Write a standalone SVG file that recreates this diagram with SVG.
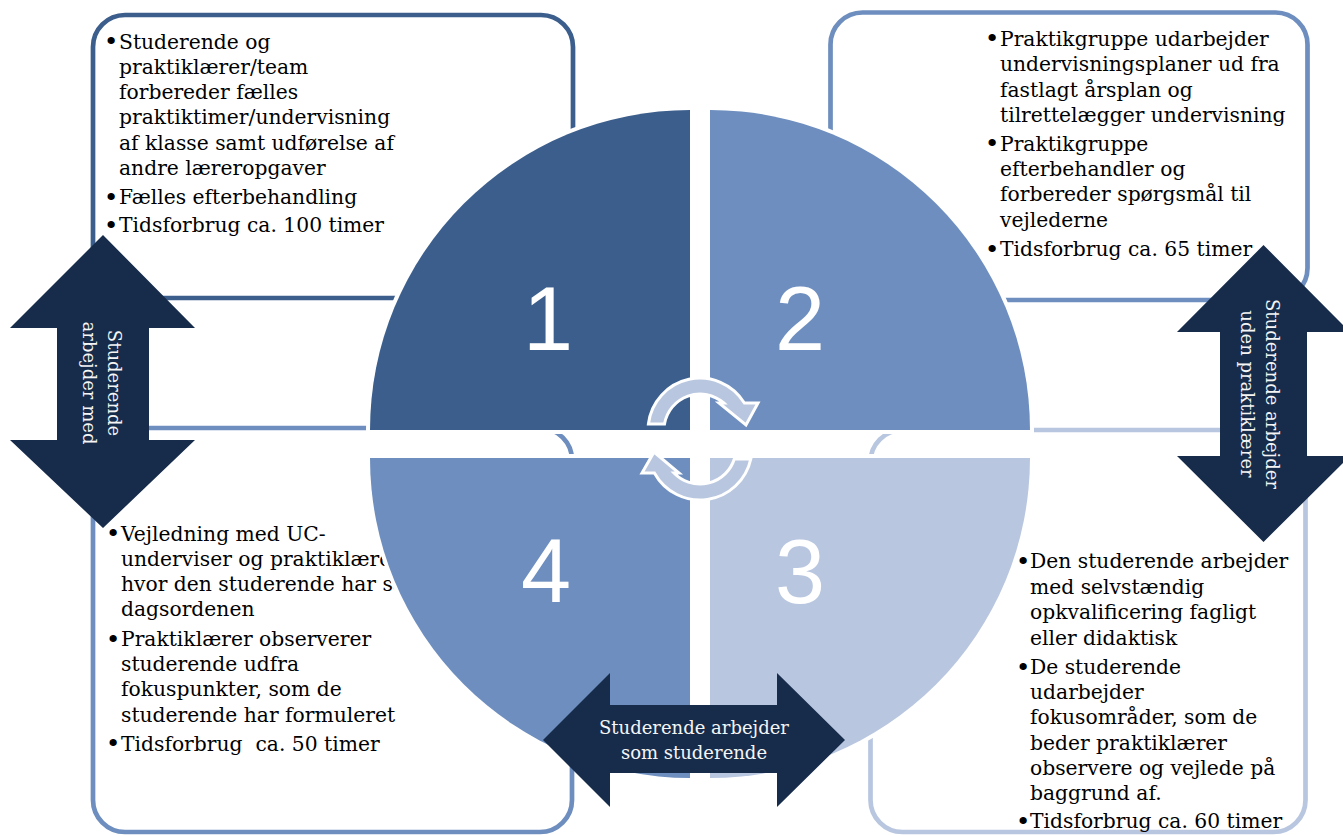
<svg xmlns="http://www.w3.org/2000/svg" width="1343" height="835" viewBox="0 0 1343 835">
<style>
.box{fill:#fff;stroke-width:4.7}
.t{font-family:"DejaVu Serif","Liberation Serif",serif;font-size:20.3px;fill:#000}
.b{font-family:"DejaVu Serif","Liberation Serif",serif;font-size:25px;fill:#000;text-anchor:middle}
.q{stroke:#fff;stroke-width:8;paint-order:stroke}
.num{font-family:"Liberation Sans",Arial,sans-serif;font-size:90px;fill:#fff;text-anchor:middle}
.arr{fill:#172c4b}
.at{font-family:"DejaVu Serif","Liberation Serif",serif;font-size:18px;fill:#f5f5f5;text-anchor:middle}
.cyc{fill:#b8c6df;stroke:#fff;stroke-width:3}
</style>
<rect width="1343" height="835" fill="#fff"/>

<g id="box1">
<rect class="box" x="93" y="15" width="480" height="283" rx="32" stroke="#3b5e8c"/>
<text class="b" x="111" y="50">•</text>
<text class="b" x="111" y="205.5">•</text>
<text class="b" x="111" y="233.8">•</text>
<text class="t">
<tspan x="119" y="48.5">Studerende og</tspan>
<tspan x="119" y="74">praktiklærer/team</tspan>
<tspan x="119" y="99.3">forbereder fælles</tspan>
<tspan x="119" y="124.3">praktiktimer/undervisning</tspan>
<tspan x="119" y="150">af klasse samt udførelse af</tspan>
<tspan x="119" y="175">andre læreropgaver</tspan>
<tspan x="119" y="204">Fælles efterbehandling</tspan>
<tspan x="119" y="232.3">Tidsforbrug ca. 100 timer</tspan>
</text>
</g>

<g id="box2">
<rect class="box" x="830.5" y="12.5" width="477" height="287.5" rx="32" stroke="#6d8ebe"/>
<text class="b" x="992" y="47">•</text>
<text class="b" x="992" y="152.2">•</text>
<text class="b" x="992" y="257.5">•</text>
<text class="t">
<tspan x="1000" y="45.5">Praktikgruppe udarbejder</tspan>
<tspan x="1000" y="70.7">undervisningsplaner ud fra</tspan>
<tspan x="1000" y="96.7">fastlagt årsplan og</tspan>
<tspan x="1000" y="121.7">tilrettelægger undervisning</tspan>
<tspan x="1000" y="150.7">Praktikgruppe</tspan>
<tspan x="1000" y="176">efterbehandler og</tspan>
<tspan x="1000" y="201">forbereder spørgsmål til</tspan>
<tspan x="1000" y="226.7">vejlederne</tspan>
<tspan x="1000" y="256">Tidsforbrug ca. 65 timer</tspan>
</text>
</g>

<g id="box4">
<rect class="box" x="93" y="428" width="479" height="404" rx="32" stroke="#6d8ebe"/>
<text class="b" x="113" y="542.2">•</text>
<text class="b" x="113" y="647.5">•</text>
<text class="b" x="113" y="752.2">•</text>
<text class="t" xml:space="preserve"><tspan x="121" y="540.7">Vejledning med UC-</tspan><tspan x="121" y="565.7">underviser og praktiklærer,</tspan><tspan x="121" y="590.7">hvor den studerende har sat</tspan><tspan x="121" y="616">dagsordenen</tspan><tspan x="121" y="646">Praktiklærer observerer</tspan><tspan x="121" y="670.7">studerende udfra</tspan><tspan x="121" y="696">fokuspunkter, som de</tspan><tspan x="121" y="721.7">studerende har formuleret</tspan><tspan x="121" y="750.7">Tidsforbrug  ca. 50 timer</tspan></text>
</g>

<g id="box3">
<rect class="box" x="870.5" y="430" width="435" height="402" rx="32" stroke="#b8c6df"/>
<text class="b" x="1023" y="569.8">•</text>
<text class="b" x="1023" y="675.5">•</text>
<text class="b" x="1023" y="829.8">•</text>
<text class="t">
<tspan x="1030" y="568.3">Den studerende arbejder</tspan>
<tspan x="1030" y="594">med selvstændig</tspan>
<tspan x="1030" y="619.3">opkvalificering fagligt</tspan>
<tspan x="1030" y="645">eller didaktisk</tspan>
<tspan x="1030" y="674">De studerende</tspan>
<tspan x="1030" y="699.3">udarbejder</tspan>
<tspan x="1030" y="724">fokusområder, som de</tspan>
<tspan x="1030" y="750">beder praktiklærer</tspan>
<tspan x="1030" y="775">observere og vejlede på</tspan>
<tspan x="1030" y="800">baggrund af.</tspan>
<tspan x="1030" y="828.3">Tidsforbrug ca. 60 timer</tspan>
</text>
</g>

<g id="q1">
<path class="q" fill="#3b5e8c" d="M690,430 L370,430 A320,320 0 0 1 690,110 Z"/>
<text class="num" x="548" y="350">1</text>
</g>
<g id="q2">
<path class="q" fill="#6d8ebe" d="M710,430 L710,110 A320,320 0 0 1 1030,430 Z"/>
<text class="num" x="800" y="350">2</text>
</g>
<g id="q3">
<path class="q" fill="#b8c6df" d="M710,458 L1030,458 A320,320 0 0 1 710,778 Z"/>
<text class="num" x="800" y="603">3</text>
</g>
<g id="q4">
<path class="q" fill="#6d8ebe" d="M690,458 L690,778 A320,320 0 0 1 370,458 Z"/>
<text class="num" x="546" y="602">4</text>
</g>

<g id="connectors">
<path class="cyc" d="M648.4,424 A52,52 0 0 1 744.4,403 L758,403 L746,425 L719,403 L723.8,403 A36,36 0 0 0 664.5,424 Z"/>
<path class="cyc" d="M750.8,459 A52,52 0 0 1 654.4,473 L642,473 L654,452 L679,473 L674,473 A36,36 0 0 0 734.3,459 Z"/>

<g id="arrow-left">
<polygon class="arr" points="103,235 195,328 149,328 149,440 195,440 103,528 10,440 57,440 57,328 10,328"/>
<text class="at" transform="translate(108,383) rotate(90)">Studerende</text>
<text class="at" transform="translate(83,383) rotate(90)">arbejder med</text>
</g>
<g id="arrow-right">
<polygon class="arr" points="1263.5,245 1350,332 1307,332 1307,456 1350,456 1263.5,542 1177,456 1220,456 1220,332 1177,332"/>
<text class="at" transform="translate(1266,394) rotate(90)">Studerende arbejder</text>
<text class="at" transform="translate(1241,394) rotate(90)">uden praktiklærer</text>
</g>
<g id="arrow-bottom">
<polygon class="arr" points="543,740 610,673 610,705 777,705 777,673 845,740 777,807 777,773 610,773 610,807"/>
<text class="at" x="694" y="734">Studerende arbejder</text>
<text class="at" x="694" y="759">som studerende</text>
</g>
</g>
</svg>
